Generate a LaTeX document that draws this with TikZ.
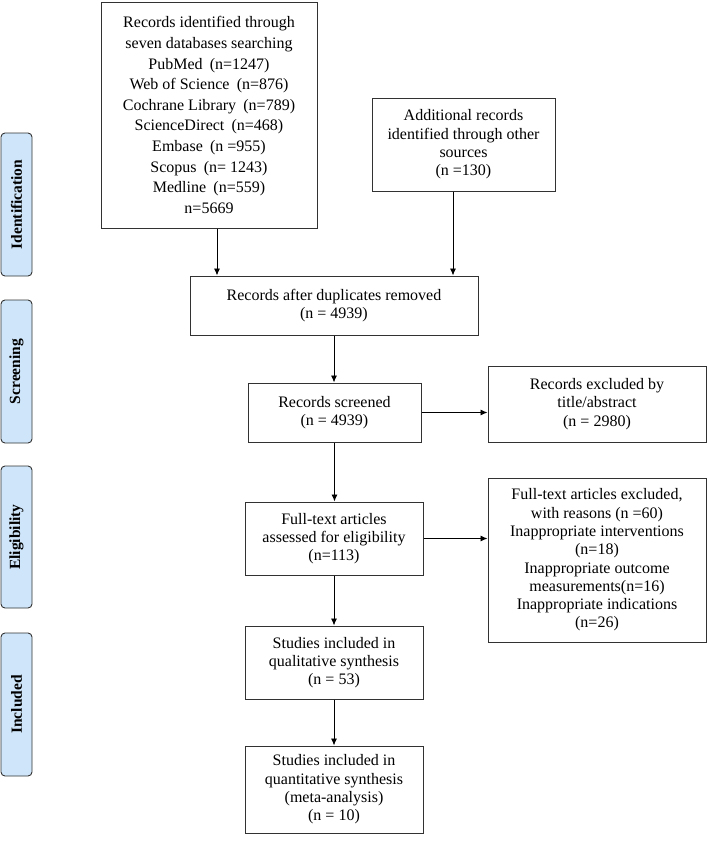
\documentclass[tikz,border=0pt]{standalone}
\usepackage{fontspec}
\setmainfont{Liberation Serif}
\usetikzlibrary{arrows.meta,positioning,calc}
\definecolor{stagefill}{RGB}{207,230,250}
\definecolor{edge}{RGB}{50,50,50}
\tikzset{
  box/.style={draw=edge, line width=1pt, align=center, inner sep=2pt,
    font=\fontsize{16}{18.3}\selectfont},
  stage/.style={draw=edge, line width=0.9pt, fill=stagefill, rounded corners=4pt,
    minimum width=31pt, inner sep=0pt},
  stagetext/.style={rotate=90, inner sep=0pt, font=\fontsize{15.5}{18}\selectfont\bfseries},
  arr/.style={draw=black, line width=0.9pt, -{Latex[length=7pt,width=6pt]}}
}
\newcommand{\lp}{\hspace{0.45em}(}
\newcommand{\rp}{)\hspace{0.45em}}
\begin{document}
\begin{tikzpicture}[x=1pt,y=-1pt]
\useasboundingbox (0,0) rectangle (708,844);
% stage labels
\node[stage, minimum height=143pt] (sid) at (16.5,204.5) {};
\node[stagetext] (tid) at (sid.center) {Identification};
\node[stage, minimum height=143pt] (ssc) at (16.5,371.5) {};
\node[stagetext] (tsc) at (ssc.center) {Screening};
\node[stage, minimum height=142pt] (sel) at (16.5,537) {};
\node[stagetext] (tel) at (sel.center) {Eligibility};
\node[stage, minimum height=143pt] (sin) at (16.5,704.5) {};
\node[stagetext] (tin) at (sin.center) {Included};
% boxes
\node[box, minimum width=216pt, minimum height=226pt, font=\fontsize{16}{20.6}\selectfont] (b1) at (209,115)
 {Records identified through\\seven databases searching\\PubMed\lp n=1247\rp\\Web of Science\lp n=876\rp\\Cochrane Library\lp n=789\rp\\ScienceDirect\lp n=468\rp\\Embase\lp n =955\rp\\Scopus\lp n= 1243\rp\\Medline\lp n=559\rp\\n=5669};
\node[box, minimum width=183pt, minimum height=93pt] (b2) at (463.5,144.5)
 {Additional records\\identified through other\\sources\\(n =130)};
\node[box, minimum width=288pt, minimum height=59pt] (b3) at (334,305.5)
 {Records after duplicates removed\\(n = 4939)};
\node[box, minimum width=173pt, minimum height=59pt] (b4) at (334.5,412.5)
 {Records screened\\(n = 4939)};
\node[box, minimum width=218pt, minimum height=76pt] (b5) at (597,404)
 {Records excluded by\\title/abstract\\(n = 2980)};
\node[box, minimum width=178pt, minimum height=73pt] (b6) at (334,538.5)
 {Full-text articles\\assessed for eligibility\\(n=113)};
\node[box, minimum width=218pt, minimum height=164pt] (b7) at (597,560)
 {Full-text articles excluded,\\with reasons (n =60)\\Inappropriate interventions\\(n=18)\\Inappropriate outcome\\measurements(n=16)\\Inappropriate indications\\(n=26)};
\node[box, minimum width=178pt, minimum height=73pt] (b8) at (334,662.5)
 {Studies included in\\qualitative synthesis\\(n = 53)};
\node[box, minimum width=178pt, minimum height=87pt] (b9) at (334,789.5)
 {Studies included in\\quantitative synthesis\\(meta-analysis)\\(n = 10)};
% arrows
\draw[arr] ([xshift=8pt]b1.south) -- ([xshift=8pt]b1.south |- b3.north);
\draw[arr] ([xshift=-10.5pt]b2.south) -- ([xshift=-10.5pt]b2.south |- b3.north);
\draw[arr] (b3.south) -- (b3.south |- b4.north);
\draw[arr] (b4.east) -- (b4.east -| b5.west);
\draw[arr] (b4.south) -- (b4.south |- b6.north);
\draw[arr] (b6.east) -- (b6.east -| b7.west);
\draw[arr] (b6.south) -- (b6.south |- b8.north);
\draw[arr] (b8.south) -- (b8.south |- b9.north);
\end{tikzpicture}
\end{document}
